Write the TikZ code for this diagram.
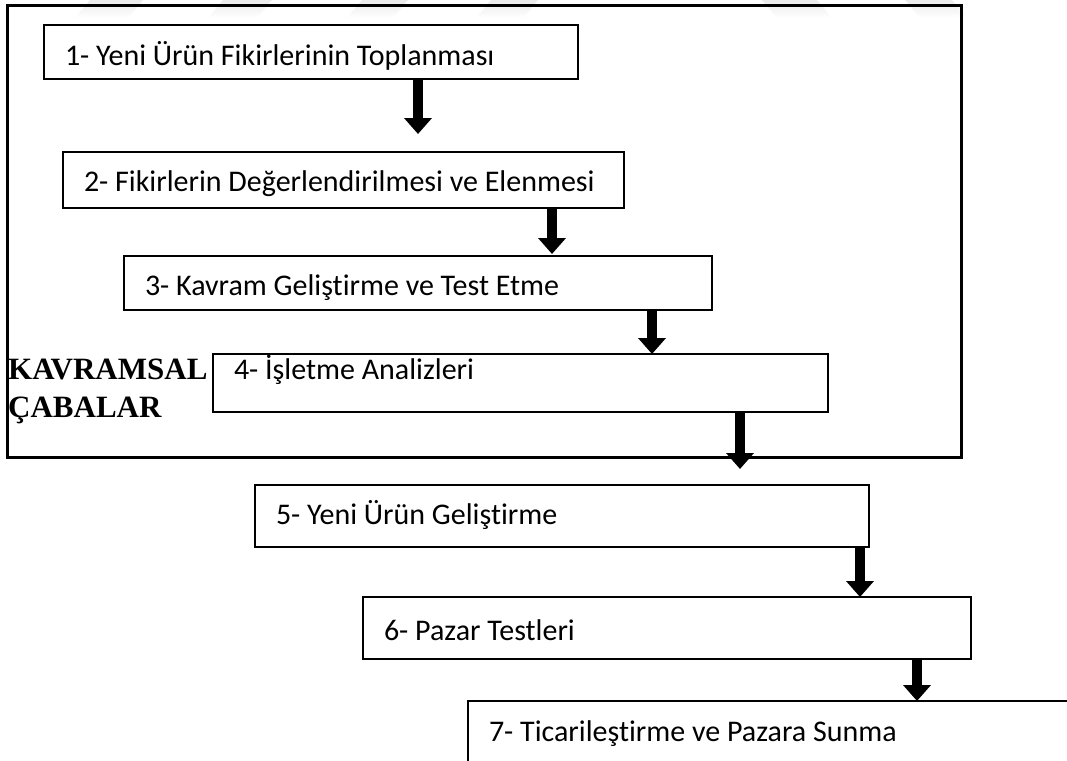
\documentclass[tikz,border=0pt]{standalone}
\usepackage{fontspec}
\newfontfamily\boxfont[Ligatures=NoCommon]{Carlito}
\newfontfamily\labelfont{Liberation Serif}
\usetikzlibrary{arrows.meta}
\begin{document}
\begin{tikzpicture}[x=1pt,y=-1pt,
  stage/.style n args={3}{draw, line width=2pt, anchor=north west, outer sep=0pt,
    inner xsep=21pt, inner ysep=0pt, align=flush left, text width=#1, minimum height=#2,
    font=\boxfont\fontsize{30}{36}\selectfont, text height=#3, text depth=10pt},
  flow/.style={line width=10pt, -{Triangle[width=27pt,length=16pt]}},
  frame/.style={draw, line width=3pt, anchor=north west, inner sep=0pt, outer sep=0pt},
  sidelabel/.style={anchor=base west, inner sep=0pt, font=\labelfont\bfseries\fontsize{31}{36}\selectfont},
  wm/.style={top color=black!8, bottom color=white, draw=none}
]
\useasboundingbox (0,0) rectangle (1067,760);
\clip (0,0) rectangle (1067,760);

% faint watermark stripes
\shade[wm] (75,18) -- (90,0) -- (143,0) -- (128,18) -- cycle;
\shade[wm] (208,18) -- (223,0) -- (272,0) -- (257,18) -- cycle;
\shade[wm] (347,18) -- (362,0) -- (408,0) -- (393,18) -- cycle;
\shade[wm] (476,18) -- (491,0) -- (538,0) -- (523,18) -- cycle;
\shade[wm] (777,18) -- (762,0) -- (817,0) -- (832,18) -- cycle;
\shade[wm] (920,18) -- (905,0) -- (952,0) -- (967,18) -- cycle;

% outer frame
\node[frame, minimum width=953.5pt, minimum height=451pt] (outer) at (7.5,6) {};

% stages
\node[stage={492pt}{54pt}{36pt}] (b1) at (44,25)  {\mbox{1- Yeni Ürün Fikirlerinin Toplanması}};
\node[stage={519pt}{56pt}{32pt}] (b2) at (63,152) {\mbox{2- Fikirlerin Değerlendirilmesi ve Elenmesi}};
\node[stage={546pt}{54pt}{34pt}] (b3) at (124,256) {\mbox{3- Kavram Geliştirme ve Test Etme}};
\node[stage={573pt}{58pt}{2pt}]  (b4) at (213,354) {\mbox{4- İşletme Analizleri}};
\node[stage={572pt}{62pt}{26pt}] (b5) at (255,485) {\mbox{5- Yeni Ürün Geliştirme}};
\node[stage={566pt}{62pt}{34pt}] (b6) at (363,597) {\mbox{6- Pazar Testleri}};
\node[stage={570pt}{62pt}{28pt}] (b7) at (468,701) {\mbox{7- Ticarileştirme ve Pazara Sunma}};

% side label
\node[sidelabel] (k1) at (8,379) {KAVRAMSAL};
\node[sidelabel] (k2) at (8,417) {ÇABALAR};

% arrow columns
\coordinate (x1) at (418,0);
\coordinate (x2) at (552,0);
\coordinate (x3) at (652,0);
\coordinate (x4) at (740,0);
\coordinate (x5) at (860,0);
\coordinate (x6) at (917,0);

\draw[flow, shorten >=18pt] (b1.south -| x1) -- (b2.north -| x1);
\draw[flow, shorten >=2pt]  (b2.south -| x2) -- (b3.north -| x2);
\draw[flow]                 (b3.south -| x3) -- (b4.north -| x3);
\draw[flow, shorten >=16pt] (b4.south -| x4) -- (b5.north -| x4);
\draw[flow]                 (b5.south -| x5) -- (b6.north -| x5);
\draw[flow]                 (b6.south -| x6) -- (b7.north -| x6);
\end{tikzpicture}
\end{document}
